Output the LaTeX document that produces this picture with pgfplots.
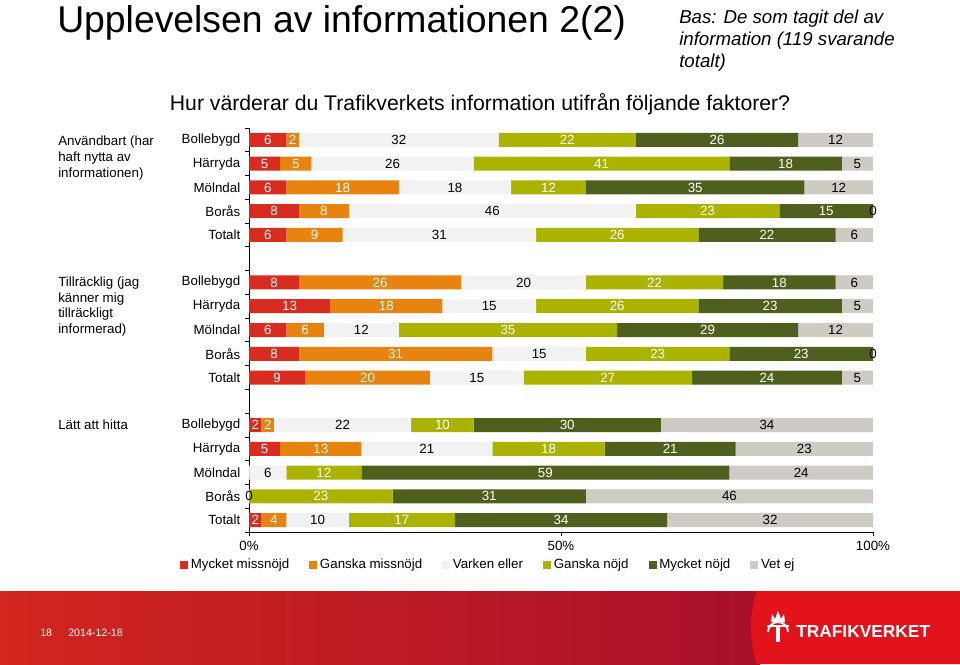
\documentclass[border=0pt]{standalone}
\usepackage{fontspec}
\setmainfont{Liberation Sans}
\usepackage{pgfplots}
\pgfplotsset{compat=1.18}
\usepackage{pgfplotstable}
\definecolor{cMM}{RGB}{216,44,32}
\definecolor{cGM}{RGB}{233,131,16}
\definecolor{cVE}{RGB}{242,242,242}
\definecolor{cGN}{RGB}{170,180,0}
\definecolor{cMN}{RGB}{79,95,30}
\definecolor{cVJ}{RGB}{206,202,196}
\definecolor{bannerL}{RGB}{210,38,30}
\definecolor{bannerR}{RGB}{168,16,42}
\definecolor{bannerB}{RGB}{227,19,27}

% vj = bar length, vjl = printed label
\pgfplotstableread{
y  mm gm ve gn mn vj vjl
16 6  2  32 22 26 12 12
15 5  5  26 41 18 5  5
14 6  18 18 12 35 11 12
13 8  8  46 23 15 0  0
12 6  9  31 26 22 6  6
10 8  26 20 22 18 6  6
9  13 18 15 26 23 5  5
8  6  6  12 35 29 12 12
7  8  31 15 23 23 0  0
6  9  20 15 27 24 5  5
4  2  2  22 10 30 34 34
3  5  13 21 18 21 22 23
2  0  0  6  12 59 23 24
1  0  0  0  23 31 46 46
0  2  4  10 17 34 33 32
}\datatable

\pgfplotsset{
  wlab/.style={nodes near coords={\pgfmathfloatifflags{\pgfplotspointmeta}{0}{}{\pgfmathprintnumber{\pgfplotspointmeta}}},
    every node near coord/.append style={text=white}},
  blab/.style={nodes near coords={\pgfmathprintnumber{\pgfplotspointmeta}},
    every node near coord/.append style={text=black}},
}

\begin{document}
\begin{tikzpicture}
\begin{scope}[x=0.75pt,y=-0.75pt]
\path[use as bounding box] (0,0) rectangle (960,664);
\fill[white] (0,0) rectangle (960,664);
% banner
\shade[left color=bannerL, right color=bannerR, shading angle=90] (0,591) rectangle (760,664);
\fill[bannerB] (757,591) .. controls (749,610) and (749,645) .. (757,664) -- (960,664) -- (960,591) -- cycle;
\node[anchor=base west, text=white, font=\fontsize{8}{10}\selectfont, inner sep=0pt] at (40,636) {18};
\node[anchor=base west, text=white, font=\fontsize{8}{10}\selectfont, inner sep=0pt] at (68,636) {2014-12-18};
\node[anchor=base west, text=white, font=\fontsize{13}{15}\selectfont\bfseries, inner sep=0pt] at (796,637) {TRAFIKVERKET};
% simple emblem
\draw[white, line width=1.6pt] (767,626) -- (789,626);
\draw[white, line width=2.4pt] (778,626) -- (778,642);
\draw[white, line width=1.4pt] (768,632) arc (180:360:10 and 10);
\fill[white] (771,622) -- (772,614) -- (775,619) -- (778,611) -- (781,619) -- (784,614) -- (785,622) -- cycle;
% titles
\node[anchor=base west, inner sep=0pt, font=\fontsize{28}{32}\selectfont] at (57,32) {Upplevelsen av informationen 2(2)};
\node[anchor=base west, inner sep=0pt, align=left, font=\fontsize{14}{16.5}\selectfont\itshape] at (679,67) {Bas: De som tagit del av\\information (119 svarande\\totalt)};
\node[anchor=base, inner sep=0pt, font=\fontsize{15.9}{18}\selectfont] at (480,110) {Hur värderar du Trafikverkets information utifrån följande faktorer?};
% group labels (anchor = baseline of last line)
\node[anchor=base west, inner sep=0pt, align=left, font=\fontsize{10}{12}\selectfont] at (58,177) {Användbart (har\\haft nytta av\\informationen)};
\node[anchor=base west, inner sep=0pt, align=left, font=\fontsize{10}{11.6}\selectfont] at (58,333) {Tillräcklig (jag\\känner mig\\tillräckligt\\informerad)};
\node[anchor=base west, inner sep=0pt, align=left, font=\fontsize{10}{12}\selectfont] at (58,429) {Lätt att hitta};
\end{scope}

\begin{axis}[
  at={(186.75pt,-399pt)}, anchor=south west,
  width=468pt, height=303pt, scale only axis,
  xbar stacked, bar width=10.5pt,
  stacked ignores zero=false,
  xmin=0, xmax=100, ymin=-0.5, ymax=16.5,
  axis x line*=bottom, axis y line*=left,
  xtick={0,50,100}, xticklabels={0\%,50\%,100\%},
  ytick={0,1,2,3,4,6,7,8,9,10,12,13,14,15,16},
  yticklabels={Totalt,Borås,Mölndal,Härryda,Bollebygd,Totalt,Borås,Mölndal,Härryda,Bollebygd,Totalt,Borås,Mölndal,Härryda,Bollebygd},
  minor ytick={-0.5,0.5,...,16.5},
  major y tick style={draw=none},
  tick align=outside, major tick length=3pt, minor tick length=3pt,
  tick style={black, line width=0.6pt},
  axis line style={black, line width=0.6pt},
  ticklabel style={font=\fontsize{10}{12}\selectfont},
  /pgf/number format/assume math mode=true,
  every node near coord/.append style={font=\fontsize{10}{12}\selectfont},
  legend columns=6,
  legend style={at={(0.384,-0.0817)}, anchor=center, draw=none, fill=none,
    font=\fontsize{10}{12}\selectfont, inner sep=0pt,
    /tikz/every even column/.append style={column sep=13pt}},
  legend image code/.code={\fill[#1] (0pt,-3pt) rectangle (6pt,3pt);},
]
\addplot[fill=cMM, draw=none, wlab] table[x=mm,y=y]{\datatable};
\addplot[fill=cGM, draw=none, wlab] table[x=gm,y=y]{\datatable};
\addplot[fill=cVE, draw=none, blab] table[x=ve,y=y]{\datatable};
\addplot[fill=cGN, draw=none, wlab] table[x=gn,y=y]{\datatable};
\addplot[fill=cMN, draw=none, wlab] table[x=mn,y=y]{\datatable};
\addplot[fill=cVJ, draw=none, blab, point meta=explicit] table[x=vj,y=y,meta=vjl]{\datatable};
\legend{Mycket missnöjd,Ganska missnöjd,Varken eller,Ganska nöjd,Mycket nöjd,Vet ej}
\end{axis}
\end{tikzpicture}
\end{document}
